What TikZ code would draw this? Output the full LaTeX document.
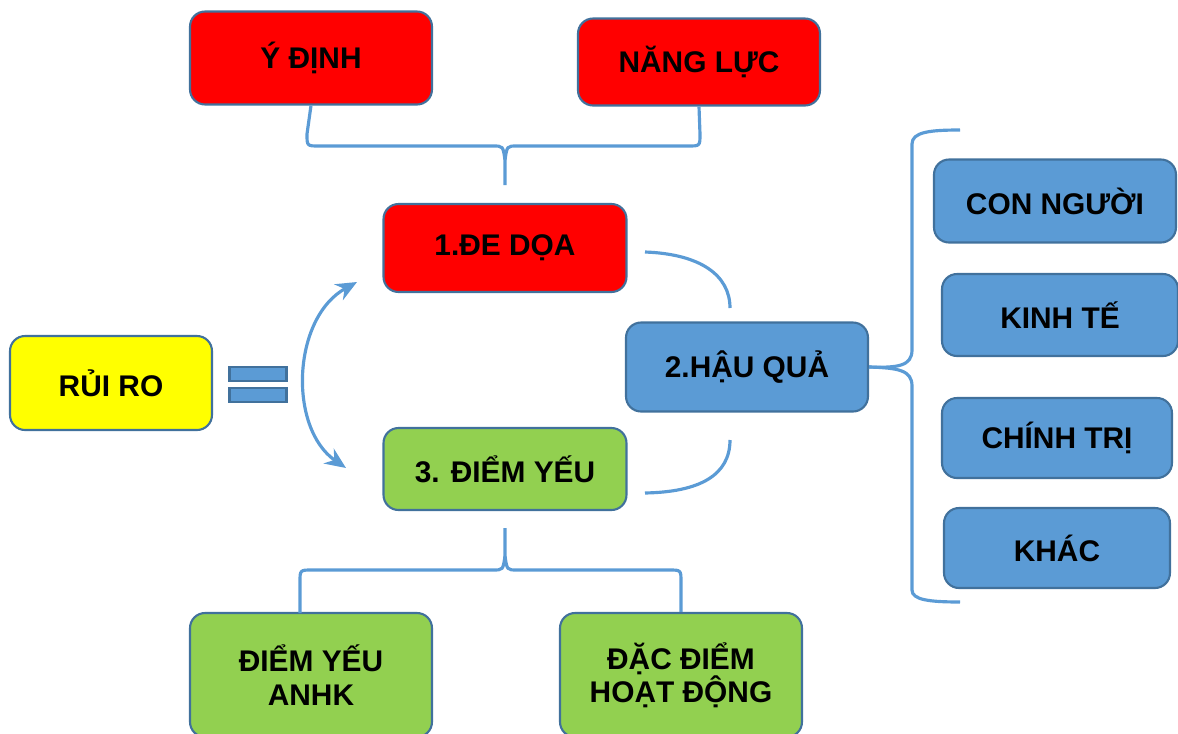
\documentclass[tikz,border=0pt]{standalone}
\usepackage{fontspec}
\setmainfont{Liberation Sans}
\usetikzlibrary{arrows.meta}
\definecolor{edgeblue}{HTML}{41719C}
\definecolor{linkblue}{HTML}{5B9BD5}
\definecolor{boxred}{HTML}{FF0000}
\definecolor{boxgreen}{HTML}{92D050}
\definecolor{boxyellow}{HTML}{FFFF00}
\begin{document}
\begin{tikzpicture}[x=0.02cm,y=-0.02cm,
    box/.style={draw=edgeblue,line width=1.2pt,rounded corners=0.3cm,align=center,
      font=\fontsize{17}{19}\selectfont\bfseries,text=black},
    red box/.style={box,fill=boxred},
    blue box/.style={box,fill=linkblue},
    green box/.style={box,fill=boxgreen},
    eqbar/.style={draw=edgeblue,line width=1.2pt,fill=linkblue,minimum width=1.14cm,minimum height=0.28cm,inner sep=0pt},
    link/.style={draw=linkblue,line width=1.8pt}]
    \useasboundingbox (0,0) rectangle (1178,734);
    % boxes
    \node (yd) [red box,minimum width=4.84cm,minimum height=1.86cm] at (311,58) {Ý ĐỊNH};
    \node (nl) [red box,minimum width=4.84cm,minimum height=1.74cm] at (699,62) {NĂNG LỰC};
    \node (dd) [red box,minimum width=4.86cm,minimum height=1.76cm] at (505,248) {1.ĐE DỌA};
    \node (rr) [box,fill=boxyellow,minimum width=4.04cm,minimum height=1.88cm] at (111,383) {RỦI RO};
    \node (hq) [blue box,minimum width=4.84cm,minimum height=1.78cm] at (747,367) {2.HẬU QUẢ};
    \node (dy) [green box,minimum width=4.86cm,minimum height=1.64cm] at (505,469) {3. ĐIỂM YẾU};
    \node (cn) [blue box,minimum width=4.84cm,minimum height=1.66cm] at (1055,201) {CON NGƯỜI};
    \node (kt) [blue box,minimum width=4.72cm,minimum height=1.64cm] at (1060,315) {KINH TẾ};
    \node (ct) [blue box,minimum width=4.60cm,minimum height=1.60cm] at (1057,438) {CHÍNH TRỊ};
    \node (kh) [blue box,minimum width=4.52cm,minimum height=1.60cm] at (1057,548) {KHÁC};
    \node (ay) [green box,minimum width=4.84cm,minimum height=2.48cm] at (311,675) {ĐIỂM YẾU\\ANHK};
    \node (dh) [green box,minimum width=4.84cm,minimum height=2.48cm] at (681,675) {ĐẶC ĐIỂM\\HOẠT ĐỘNG};
    % equals sign
    \node (eqa) [eqbar] at (258,374) {};
    \node (eqb) [eqbar] at (258,395) {};
    % free ends
    \coordinate (topend) at (505,185);
    \coordinate (botend) at (505,528);
    \coordinate (arrtop) at (357,282);
    \coordinate (arrbot) at (346,468);
    \coordinate (hqa) at (645,252);
    \coordinate (hqb) at (730,308);
    \coordinate (hqc) at (730,440);
    \coordinate (hqd) at (645,493);
    \coordinate (brtop) at (960,130);
    \coordinate (brbot) at (960,602);
    % braces
    \draw[link] (yd.south) -- (307,134) .. controls (307,146) .. (319,146) -- (493,146)
      .. controls (503,146) .. (505,160) -- (topend);
    \draw[link] (nl.south) -- (700,134) .. controls (700,146) .. (688,146) -- (517,146)
      .. controls (507,146) .. (505,160);
    \draw[link] (botend) -- (505,556) .. controls (507,570) .. (517,570) -- (669,570)
      .. controls (681,570) .. (681,582) -- (dh.north);
    \draw[link] (505,556) .. controls (503,570) .. (493,570) -- (312,570)
      .. controls (300,570) .. (300,582) -- (300,613);
    \draw[link] (hq.east) .. controls (898,368) and (912,366) .. (912,350) -- (912,144)
      .. controls (912,132) and (930,130) .. (brtop);
    \draw[link] (hq.east) .. controls (898,368) and (912,370) .. (912,386) -- (912,590)
      .. controls (912,600) and (930,602) .. (brbot);
    % arcs round 2.HAU QUA
    \draw[link] (hqa) .. controls (700,254) and (730,275) .. (hqb);
    \draw[link] (hqc) .. controls (730,475) and (700,492) .. (hqd);
    % double arrow
    \draw[link,{Stealth[length=0.42cm,width=0.36cm]}-{Stealth[length=0.42cm,width=0.36cm]}]
      (arrtop) .. controls (292,318) and (288,428) .. (arrbot);
\end{tikzpicture}
\end{document}
